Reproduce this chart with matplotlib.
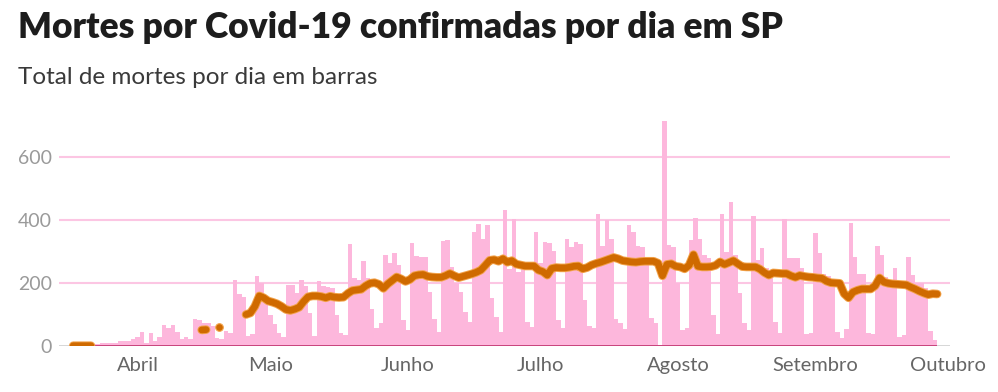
import matplotlib.pyplot as plt
import matplotlib.patheffects as pe
import numpy as np
import pandas as pd

# daily deaths, one value per day from 2020-03-17
deaths = [1, 2, 2, 3, 4, 5, 4,
          9, 7, 9, 9, 16, 14, 14,
          22, 27, 43, 9, 39, 14, 28,
          66, 55, 66, 43, 20, 27, 20,
          85, 82, 73, 73, 62, 23, 21,
          48, 40, 208, 164, 154, 32, 38,
          221, 198, 156, 98, 69, 40, 27,
          193, 193, 166, 208, 190, 103, 32,
          206, 190, 185, 182, 98, 40, 35,
          324, 214, 208, 268, 214, 116, 56,
          72, 287, 263, 293, 256, 82, 50,
          326, 284, 282, 280, 170, 84, 42,
          333, 337, 250, 198, 170, 108, 74,
          362, 386, 340, 383, 150, 90, 45,
          430, 245, 403, 235, 264, 75, 60,
          362, 262, 330, 325, 300, 83, 55,
          339, 313, 328, 323, 146, 61, 55,
          418, 317, 398, 339, 85, 72, 53,
          383, 362, 318, 313, 270, 88, 72,
          0, 714, 320, 313, 199, 49, 56,
          336, 405, 339, 287, 278, 96, 38,
          419, 296, 456, 289, 167, 72, 49,
          412, 273, 311, 248, 227, 75, 39,
          403, 279, 278, 277, 247, 36, 40,
          357, 295, 229, 221, 190, 42, 26,
          52, 388, 281, 229, 227, 40, 36,
          318, 287, 219, 200, 248, 29, 33,
          281, 224, 198, 198, 182, 47, 19]

nan = np.nan
# moving average as drawn (gaps where the source has none)
media = ([0, 0, 0, 0, 0] + [nan] * 24 + [50, 51, nan, nan, 60] + [nan] * 5 +
         [99, 104, 125, 158, 152, 142, 138, 133, 125, 115,
          112, 116, 122, 140, 155, 158, 158, 156, 152, 157,
          154, 153, 154, 166, 175, 177, 179, 190, 198, 200,
          195, 182, 196, 207, 218, 212, 204, 210, 222, 225,
          226, 220, 218, 217, 217, 222, 229, 222, 216, 220,
          224, 228, 233, 240, 255, 271, 273, 268, 276, 265,
          270, 259, 256, 253, 253, 253, 240, 235, 224, 245,
          248, 247, 247, 249, 252, 253, 244, 248, 256, 261,
          265, 270, 275, 280, 276, 270, 268, 266, 265, 267,
          268, 268, 268, 262, 222, 258, 260, 252, 250, 244,
          255, 289, 252, 250, 250, 251, 255, 266, 258, 264,
          270, 260, 251, 250, 250, 250, 243, 232, 224, 231,
          230, 229, 229, 222, 217, 223, 220, 218, 217, 215,
          214, 205, 200, 199, 198, 165, 152, 170, 176, 180,
          180, 180, 190, 215, 202, 198, 196, 195, 194, 193,
          186, 180, 173, 167, 162, 165, 164])

meses = ['Abril', 'Maio', 'Junho', 'Julho', 'Agosto', 'Setembro', 'Outubro']
inicio_mes = ['2020-04-01', '2020-05-01', '2020-06-01', '2020-07-01',
              '2020-08-01', '2020-09-01', '2020-10-01']
yticks = [0, 200, 400, 600]

dias = pd.date_range('2020-03-17', periods=len(deaths), freq='D')
t0 = dias[0]
dias_linha = dias + pd.Timedelta(hours=12)

plt.rcParams['font.family'] = ['Lato', 'DejaVu Sans']

fig = plt.figure(figsize=(9.98, 3.92), dpi=100)
ax = fig.add_axes([59 / 998, 46.3 / 392, 891 / 998, 230 / 392])

ax.bar(dias, deaths, width=1.0, color='#fdb7dc', linewidth=0, zorder=2)

halo = [pe.Stroke(linewidth=6.2, foreground='#f2a24a'), pe.Normal()]
ax.plot(dias_linha, media, color='#cf6a00', lw=4.8, solid_capstyle='round',
        solid_joinstyle='round', zorder=4, path_effects=halo)

# single points between gaps don't show as a line, draw them as dots
m = np.array(media, dtype=float)
prev_nan = np.r_[True, np.isnan(m[:-1])]
next_nan = np.r_[np.isnan(m[1:]), True]
solo = ~np.isnan(m) & prev_nan & next_nan
ax.scatter(dias_linha[solo], m[solo], s=30, color='#cf6a00', edgecolor='#f2a24a',
           linewidth=0.8, zorder=4)

# baseline: dark pink under bars, black elsewhere
ax.axhline(0, color='#333333', lw=1.0, zorder=1)
ax.plot([dias[0] - pd.Timedelta(hours=12), dias[-1] + pd.Timedelta(hours=12)], [0, 0],
        color='#c8437c', lw=1.4, zorder=3, solid_capstyle='butt')

for v in yticks[1:]:
    ax.axhline(v, color='#fcc6e3', lw=1.5, zorder=1)

ax.set_ylim(0, 730)
ax.set_xlim(t0 - pd.Timedelta(days=2.71), t0 + pd.Timedelta(days=198.4))

ax.set_yticks(yticks)
ax.set_yticklabels([str(v) for v in yticks], fontsize=14, color='#9a9a9a')
ax.set_xticks(pd.to_datetime(inicio_mes))
ax.set_xticklabels(meses, fontsize=14.5, color='#666666')
ax.tick_params(axis='both', length=0)
ax.tick_params(axis='y', pad=5)
ax.tick_params(axis='x', pad=8)
for s in ax.spines.values():
    s.set_visible(False)

fig.text(18 / 998, 1 - 28 / 392, 'Mortes por Covid-19 confirmadas por dia em SP',
         fontsize=25.5, fontweight='heavy', color='#1d1d1d', va='center', ha='left')
fig.text(18 / 998, 1 - 77 / 392, 'Total de mortes por dia em barras',
         fontsize=17.5, color='#3a3a3a', va='center', ha='left')

plt.savefig('out.png', dpi=100)
